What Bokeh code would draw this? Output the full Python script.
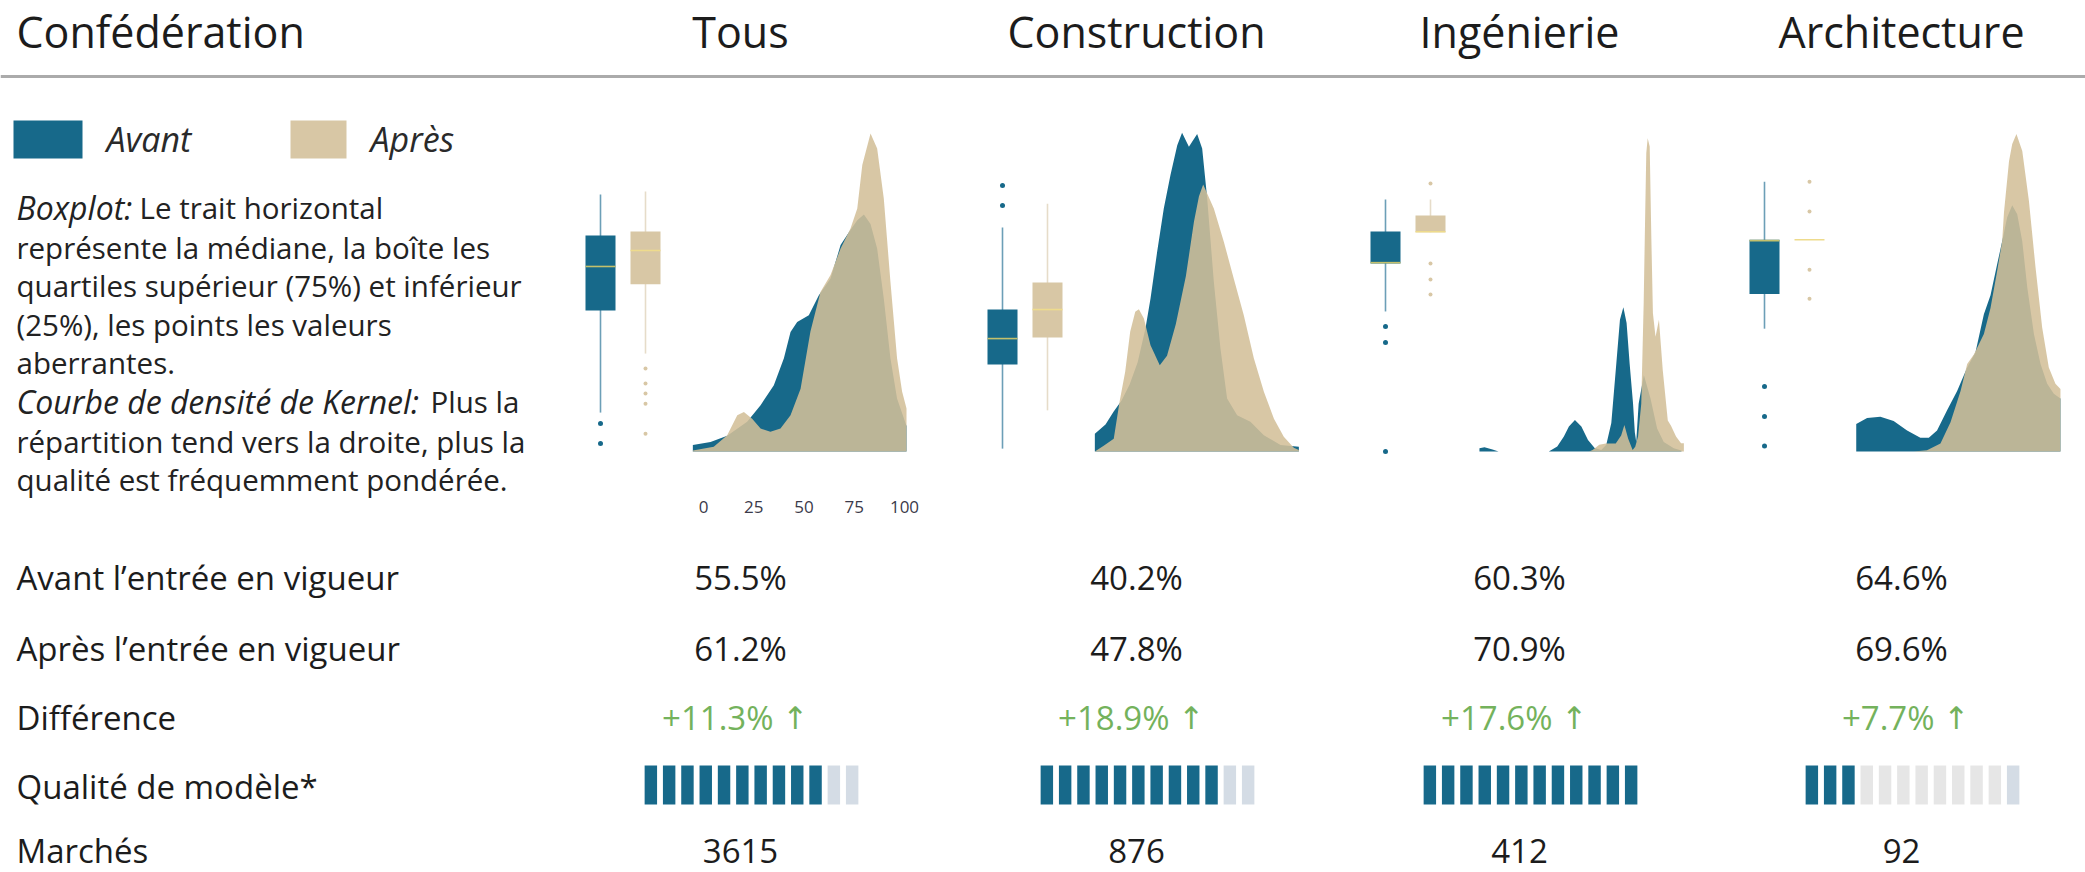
from bokeh.plotting import figure
from bokeh.models import Range1d, Span
from bokeh.core.properties import value
from bokeh.embed import file_html
from bokeh.resources import INLINE

# ---------------- data ----------------
categories = ["Tous", "Construction", "Ingénierie", "Architecture"]
avant_pct = ["55.5%", "40.2%", "60.3%", "64.6%"]
apres_pct = ["61.2%", "47.8%", "70.9%", "69.6%"]
difference = ["+11.3%", "+18.9%", "+17.6%", "+7.7%"]
quality_filled = [10, 10, 12, 3]
quality_tail = [2, 2, 0, 1]
quality_segments = 12
marches = [3615, 876, 412, 92]
row_labels = ["Avant l\u2019entrée en vigueur", "Après l\u2019entrée en vigueur",
              "Différence", "Qualité de modèle*", "Marchés"]
axis_ticks = [0, 25, 50, 75, 100]

# kernel density curves (score 0-100, relative density 0-100)
tous_avant_v = [-5.3, 3.5, 11.8, 21.7, 28.4, 35, 40, 43.3, 46.6, 52.4, 57.4, 63.2, 68.2, 73.1, 76.5, 79.8, 83.1, 86.4, 89.7, 93, 96.3, 101]
tous_avant_h = [2.0, 3.0, 4.9, 9.3, 14.5, 20.8, 29.2, 37.5, 40.6, 42.7, 49, 54.2, 64.7, 69.4, 72.5, 74.3, 71.3, 63.6, 48, 29.2, 16.6, 8]
tous_apres_v = [-5.3, 5.1, 11.8, 16.8, 20.1, 24.2, 28.4, 33.3, 38.3, 43.3, 48.3, 53.2, 58.2, 63.2, 68.2, 73.1, 76.5, 79, 83.1, 86.4, 89.7, 93, 96.3, 98.8, 101]
tous_apres_h = [0.3, 1.5, 5.1, 11.4, 12.4, 10.3, 7.2, 6.2, 7.2, 11.4, 19.7, 37.6, 50, 55.3, 63.6, 69.8, 76.2, 89.8, 99.7, 95, 79.3, 53.2, 29.2, 18.8, 13.5]

cons_avant_v = [-5.3, 0, 4, 8, 12, 16, 19.9, 22.4, 25.7, 29, 32.3, 35.7, 38.1, 41.5, 45.6, 48.1, 50.6, 53.9, 57.2, 60.5, 65.5, 72.1, 78.8, 87.1, 96.2]
cons_avant_h = [5.6, 8.5, 12.5, 16, 21, 28, 38.6, 48, 62.6, 76.2, 86.6, 96, 99.9, 95.5, 99.5, 95, 79.3, 53.2, 32.3, 16.6, 11.4, 9.3, 5.1, 2, 1.5]
cons_apres_v = [-5.3, -0.9, 4.1, 7, 9.8, 12.3, 14.8, 16.6, 19.1, 22.4, 27, 30.6, 35, 40, 44, 46.5, 48.6, 53.9, 58.9, 63.8, 68.8, 73.8, 78.8, 83.8, 88.7, 93.7, 96.2]
cons_apres_h = [0, 1.8, 4, 15.6, 25, 37.6, 43.8, 44.6, 41.7, 33.3, 27, 30, 40, 55, 72, 80, 83.7, 76.2, 65.7, 54.2, 42.7, 29.2, 18.7, 10.3, 4.6, 1.2, 0.5]

ing_avant_v = [-4.5, -2, 2, 5, 30, 34.2, 37.5, 40, 43, 46.2, 49.5, 52.8, 56.1, 58.6, 61.1, 63.6, 65.4, 67.1, 68.7, 70.2, 71.9, 72.8, 73.5, 74.7, 77.3, 80.6, 83.9, 87.2, 92.2, 96]
ing_avant_h = [1, 1.3, 0.6, 0, 0, 1.6, 4.7, 7.8, 9.9, 7.8, 3.6, 1.1, 0.5, 2.1, 8.9, 27.7, 41.3, 45.2, 40.3, 27.7, 15.1, 6, 3, 15, 24, 16.6, 7.2, 3, 1, 0.3]
ing_apres_v = [-4.5, 50, 51.8, 55.1, 58.4, 63.3, 66, 67.6, 69.5, 71.7, 73, 74.4, 76, 77.2, 77.9, 78.5, 79.2, 80.2, 81, 81.8, 83.1, 84.8, 86.7, 89.2, 90.8, 93.3, 95.8, 97.2]
ing_apres_h = [0, 0, 0.5, 2.1, 2.5, 2.5, 5, 8.3, 4, 0.5, 1.5, 4.7, 15, 46.5, 72.6, 93.5, 98.2, 95.6, 67.4, 43.3, 36, 41.3, 25.5, 9.7, 8.1, 4.7, 2.6, 2.6]

arch_avant_v = [-5.6, -0.2, 6.4, 13, 19.7, 26.3, 30.5, 34.6, 39.6, 44.6, 49.6, 53.7, 57.9, 61.2, 64.5, 67, 69.5, 72, 74.5, 77, 79.5, 82.8, 86.1, 89.4, 92.7, 96]
arch_avant_h = [8.6, 10.5, 10.9, 9.6, 6.6, 4.3, 4.3, 6.6, 12.9, 19, 26.3, 31, 43, 49, 58.7, 65.9, 73.4, 77.2, 74.4, 65.9, 51.4, 36.8, 27.4, 21.2, 18.1, 16.6]
arch_apres_v = [-5.6, 23, 29.6, 36.3, 41.3, 46.3, 49.6, 53, 57.9, 61.2, 64.5, 67, 67.9, 70.4, 72, 74.1, 77, 80.3, 83.6, 86.9, 90.2, 93.5, 96]
arch_apres_h = [0, 0, 0.4, 2.5, 9.2, 19, 27.4, 30.5, 36.8, 45, 56.6, 65.9, 75, 91, 96.4, 99.5, 94.2, 78.6, 57.7, 38.9, 26.3, 21.2, 19.6]

# boxplot statistics (score 0-100)
box_avant_lo = [12.2, 0.9, 43.9, 38.5]
box_avant_q1 = [44.2, 27.3, 58.9, 49.4]
box_avant_med = [58.0, 35.4, 59.2, 66.1]
box_avant_q3 = [67.7, 44.5, 69.0, 66.4]
box_avant_hi = [80.6, 70.2, 79.0, 84.6]
box_avant_out = [[8.8, 2.5], [83.4, 77.1], [39.2, 34.2, 0.0], [20.4, 11.0, 1.7]]
box_apres_lo = [30.7, 12.9, 68.7, 66.4]
box_apres_q1 = [52.4, 35.7, 68.7, 66.4]
box_apres_med = [63.0, 44.5, 68.9, 66.4]
box_apres_q3 = [69.0, 53.0, 74.0, 66.4]
box_apres_hi = [81.5, 77.7, 79.0, 66.4]
box_apres_out = [[26.0, 21.3, 18.2, 15.0, 5.6], [], [84.0, 58.9, 53.9, 49.2], [84.6, 75.2, 57.0, 47.9]]

curves = [(tous_avant_v, tous_avant_h, tous_apres_v, tous_apres_h),
          (cons_avant_v, cons_avant_h, cons_apres_v, cons_apres_h),
          (ing_avant_v, ing_avant_h, ing_apres_v, ing_apres_h),
          (arch_avant_v, arch_avant_h, arch_apres_v, arch_apres_h)]

# ---------------- styles / layout ----------------
BLUE = "#17698a"
BEIGE = "#d3bf98"
BEIGE_SOLID = "#d8c7a5"
GREEN = "#74b25c"
TXT = "#1c1c1c"
FONT = value("Open Sans")

W, H = 2085, 872
X0, X1 = 0, W
YB, YT = H, 0

panel_v0 = [703, 1105, 1488, 1867]   # page x of score 0
panel_px = 201                       # px for 100 score points
base_y, top_y = 451, 132
col_center = [740, 1136, 1519, 1901]


def lin(va, pa, vb, pb, f0, f1):
    k = (vb - va) / (pb - pa)
    return Range1d(start=va + (f0 - pa) * k, end=va + (f1 - pa) * k)


p = figure(width=W, height=H, x_range=Range1d(X0, X1), y_range=Range1d(YB, YT),
           x_axis_type=None, y_axis_type=None, toolbar_location=None,
           output_backend="svg", min_border=0, outline_line_color=None,
           background_fill_color="white", border_fill_color="white")

p.extra_y_ranges = {"yp": lin(0, base_y, 100, top_y, YB, YT)}
xr = {}
for i, v0 in enumerate(panel_v0):
    xr[f"x{i}"] = lin(0, v0, 100, v0 + panel_px, X0, X1)
    xr[f"b{i}"] = lin(0, v0 - 103, 1, v0 - 58, X0, X1)
    c = col_center[i] + 11
    xr[f"q{i}"] = lin(0, c - 100.65, quality_segments - 1, c + 100.65, X0, X1)
p.extra_x_ranges = xr

# header
p.text(x=[16], y=[31], text=["Confédération"], text_font=FONT, text_font_size="43px",
       text_color=TXT, text_align="left", text_baseline="middle")
p.text(x=col_center, y=[31] * 4, text=categories, text_font=FONT, text_font_size="43px",
       text_color=TXT, text_align="center", text_baseline="middle")
p.add_layout(Span(location=76, dimension="width", line_color="#ababab", line_width=3))

# legend
p.quad(left=[13], right=[82], top=[120], bottom=[158], fill_color=BLUE, line_color=None)
p.quad(left=[290], right=[346], top=[120], bottom=[158], fill_color=BEIGE_SOLID, line_color=None)
p.text(x=[106, 370], y=[138, 138], text=["Avant", "Après"], text_font=FONT,
       text_font_size="34px", text_font_style="italic", text_color="#2a2a2a",
       text_align="left", text_baseline="middle")

# explanation
expl_y = [207, 247, 285, 324, 362, 401, 441, 479]
expl_italic = ["Boxplot:", "", "", "", "", "Courbe de densité de Kernel:", "", ""]
expl_normal = ["Le trait horizontal", "représente la médiane, la boîte les",
               "quartiles supérieur (75%) et inférieur", "(25%), les points les valeurs",
               "aberrantes.", "Plus la", "répartition tend vers la droite, plus la",
               "qualité est fréquemment pondérée."]
expl_offset = [139, 16, 16, 16, 16, 430, 16, 16]
it_idx = [k for k, s in enumerate(expl_italic) if s]
p.text(x=[16] * len(it_idx), y=[expl_y[k] for k in it_idx], text=[expl_italic[k] for k in it_idx],
       text_font=FONT, text_font_size="32px", text_font_style="italic", text_color="#222222",
       text_align="left", text_baseline="middle")
p.text(x=expl_offset, y=expl_y, text=expl_normal, text_font=FONT, text_font_size="29.5px",
       text_color="#222222", text_align="left", text_baseline="middle")

# density panels and boxplots
for i, (av, ah, pv, ph) in enumerate(curves):
    p.varea(x=av, y1=0, y2=ah, fill_color=BLUE, x_range_name=f"x{i}", y_range_name="yp")
    p.varea(x=pv, y1=0, y2=ph, fill_color=BEIGE, fill_alpha=0.88,
            x_range_name=f"x{i}", y_range_name="yp")
    stats = [
        (box_avant_lo[i], box_avant_q1[i], box_avant_med[i], box_avant_q3[i], box_avant_hi[i],
         box_avant_out[i], BLUE, "#6c9fb7", "#c3c06c", 5),
        (box_apres_lo[i], box_apres_q1[i], box_apres_med[i], box_apres_q3[i], box_apres_hi[i],
         box_apres_out[i], BEIGE_SOLID, "#e6dcc9", "#eedb8c", 4),
    ]
    for k, (lo, q1, med, q3, hi, outs, col, wcol, mcol, osz) in enumerate(stats):
        rn = dict(x_range_name=f"b{i}", y_range_name="yp")
        if hi > lo:
            p.segment(x0=[k], y0=[lo], x1=[k], y1=[hi], line_color=wcol, line_width=1.6, **rn)
        if q3 > q1:
            p.vbar(x=[k], width=0.667, bottom=[q1], top=[q3], fill_color=col, line_color=None, **rn)
        p.segment(x0=[k - 0.333], y0=[med], x1=[k + 0.333], y1=[med], line_color=mcol,
                  line_width=1.6, **rn)
        if outs:
            p.scatter(x=[k] * len(outs), y=outs, size=osz, fill_color=col, line_color=None, **rn)

# axis tick labels under the first panel
p.text(x=axis_ticks, y=[506] * len(axis_ticks), text=[str(t) for t in axis_ticks],
       x_range_name="x0", text_font=FONT, text_font_size="17px", text_color="#3b3a4a",
       text_align="center", text_baseline="middle")

# table
row_y = [577, 648, 717, 786, 850]
p.text(x=[16] * len(row_labels), y=row_y, text=row_labels, text_font=FONT,
       text_font_size="33px", text_color=TXT, text_align="left", text_baseline="middle")
p.text(x=col_center, y=[row_y[0]] * 4, text=avant_pct, text_font=FONT, text_font_size="33px",
       text_color=TXT, text_align="center", text_baseline="middle")
p.text(x=col_center, y=[row_y[1]] * 4, text=apres_pct, text_font=FONT, text_font_size="33px",
       text_color=TXT, text_align="center", text_baseline="middle")
p.text(x=[c + 33 for c in col_center], y=[row_y[2]] * 4, text=difference,
       text_font=FONT, text_font_size="33px", text_color=GREEN, text_align="right",
       text_baseline="middle")
p.text(x=[c + 55 for c in col_center], y=[row_y[2]] * 4, text=["\u2191"] * 4,
       text_font=value("DejaVu Sans"), text_font_size="31px", text_color=GREEN,
       text_align="center", text_baseline="middle")
p.text(x=col_center, y=[row_y[4]] * 4, text=[str(m) for m in marches], text_font=FONT,
       text_font_size="33px", text_color=TXT, text_align="center", text_baseline="middle")

# model quality segments
for i in range(4):
    segs = list(range(quality_segments))
    colors = []
    for s in segs:
        if s < quality_filled[i]:
            colors.append(BLUE)
        elif s >= quality_segments - quality_tail[i]:
            colors.append("#d4dce5")
        else:
            colors.append("#e6e6e6")
    p.vbar(x=segs, width=0.68, bottom=765, top=804, fill_color=colors, line_color=None,
           x_range_name=f"q{i}")

open("out.html", "w").write(file_html(p, INLINE))
